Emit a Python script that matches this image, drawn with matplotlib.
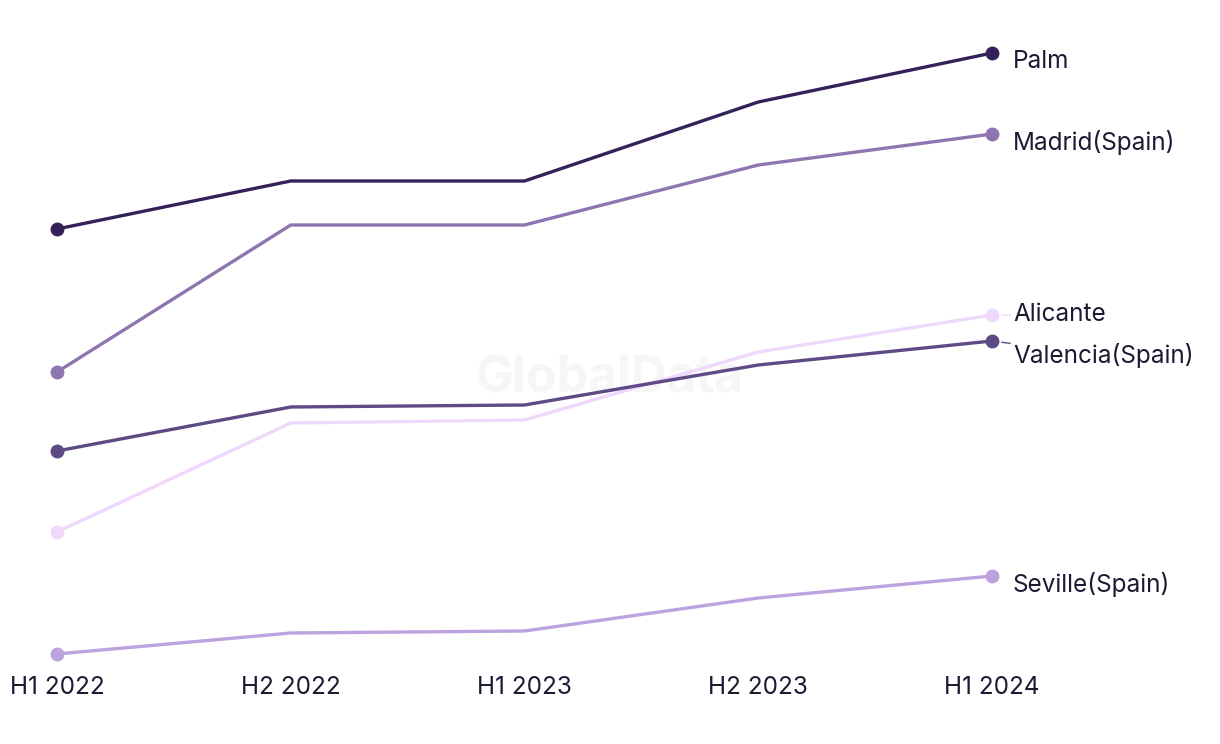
import matplotlib.pyplot as plt

plt.rcParams['font.family'] = ['Inter', 'DejaVu Sans']

periods = ["H1 2022", "H2 2022", "H1 2023", "H2 2023", "H1 2024"]

palm = [45.1, 49.9, 49.9, 57.8, 62.7]
madrid = [30.8, 45.5, 45.5, 51.5, 54.6]
alicante = [14.8, 25.7, 26.0, 32.8, 36.5]
valencia = [22.9, 27.3, 27.5, 31.5, 33.9]
seville = [2.6, 4.7, 4.9, 8.2, 10.4]

series = [
    # name, values, colour, label offset (points), leader line
    ("Seville(Spain)", seville, "#bca3e0", -5.8, False),
    ("Alicante", alicante, "#efd8fb", 0.0, True),
    ("Valencia(Spain)", valencia, "#5e4a85", -10.6, True),
    ("Madrid(Spain)", madrid, "#8e75b0", -6.3, False),
    ("Palm", palm, "#35215a", -5.8, False),
]

text_color = "#1c1a33"

fig = plt.figure(figsize=(12.2, 7.44), dpi=100)
ax = fig.add_axes([0, 0.1062, 1, 0.8938])

x = list(range(len(periods)))
for name, vals, color, dy, leader in series:
    ax.plot(x, vals, color=color, lw=2.4, marker="o", ms=9, markevery=[0, len(x) - 1],
            solid_capstyle="round")
    props = None
    if leader:
        props = dict(arrowstyle="-", color=color, lw=1, shrinkA=0, shrinkB=7)
    ax.annotate(name, xy=(x[-1], vals[-1]), xytext=(15, dy), textcoords="offset points",
                ha="left", va="center", fontsize=17.5, color=text_color, arrowprops=props)

ax.text(0.5, 0.49, "GlobalData", transform=fig.transFigure, ha="center", va="center",
        fontsize=36, fontweight="bold", color="#f6f6f6", zorder=0)

ax.set_xlim(-0.2439, 4.975)
ax.set_ylim(1.5, 68)
ax.set_xticks(x)
ax.set_xticklabels(periods, fontsize=17.5, color=text_color)
ax.tick_params(axis="x", length=0, pad=8)
ax.set_yticks([])
for s in ax.spines.values():
    s.set_visible(False)

fig.savefig("out.png", dpi=100)
